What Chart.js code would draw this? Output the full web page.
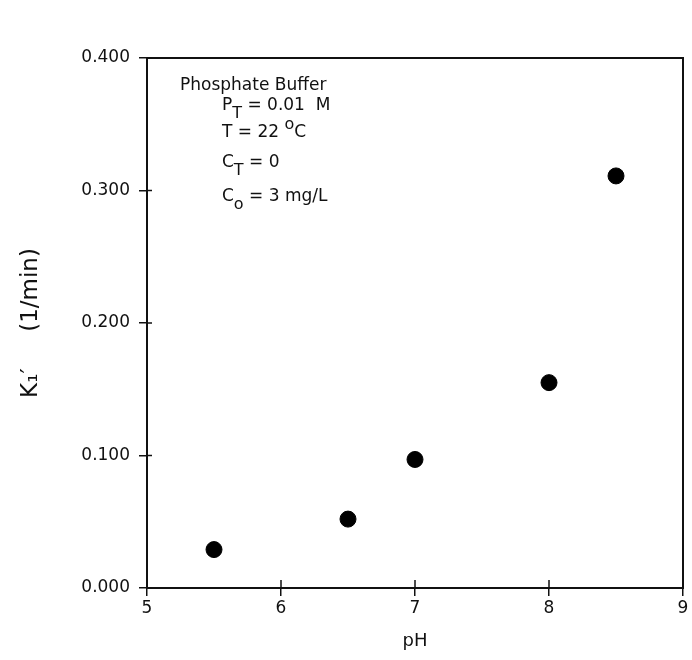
<!DOCTYPE html>
<html>
<head>
<meta charset="utf-8">
<script src="https://cdn.jsdelivr.net/npm/chart.js@4/dist/chart.umd.min.js"></script>
<style>
  body { margin: 0; background: #fff; }
</style>
</head>
<body>
<canvas id="chart" width="692" height="660"></canvas>
<script>
const phValues = [5.5, 6.5, 7.0, 8.0, 8.5];
const k1Values = [0.029, 0.052, 0.097, 0.155, 0.311];
const xTicks = [5, 6, 7, 8, 9];
const yTicks = [0.0, 0.1, 0.2, 0.3, 0.4];

const FONT = "'DejaVu Sans', sans-serif";

// annotation lines, split into normal / sub / sup pieces
const noteLines = [
    { x: 180, y: 86, parts: [['Phosphate Buffer', 'n']] },
    { x: 222, y: 106, parts: [['P', 'n'], ['T', 'sub'], [' = 0.01  M', 'n']] },
    { x: 222, y: 133, parts: [['T = 22 ', 'n'], ['o', 'sup'], ['C', 'n']] },
    { x: 222, y: 163, parts: [['C', 'n'], ['T', 'sub'], [' = 0', 'n']] },
    { x: 222, y: 197, parts: [['C', 'n'], ['o', 'sub'], [' = 3 mg/L', 'n']] }
];

const framePlugin = {
    id: 'frame',
    afterDraw(chart) {
        const ctx = chart.ctx;
        const a = chart.chartArea;
        ctx.save();
        ctx.strokeStyle = '#111';
        ctx.lineWidth = 2;
        ctx.strokeRect(a.left, a.top, a.right - a.left, a.bottom - a.top);
        // inner halves of the crossing tick marks
        ctx.lineWidth = 1.5;
        const xs = chart.scales.x, ys = chart.scales.y;
        xTicks.forEach(v => {
            const px = xs.getPixelForValue(v);
            ctx.beginPath();
            ctx.moveTo(px, a.bottom);
            ctx.lineTo(px, a.bottom - 8);
            ctx.stroke();
        });
        yTicks.forEach(v => {
            const py = ys.getPixelForValue(v);
            ctx.beginPath();
            ctx.moveTo(a.left, py);
            ctx.lineTo(a.left + 5, py);
            ctx.stroke();
        });
        // note text
        ctx.fillStyle = '#111';
        ctx.textBaseline = 'middle';
        noteLines.forEach(line => {
            let x = line.x;
            line.parts.forEach(([t, kind]) => {
                let size = 17, dy = 0;
                if (kind === 'sub') { size = 16; dy = 8; }
                if (kind === 'sup') { size = 16; dy = -8; }
                ctx.font = size + 'px ' + FONT;
                ctx.fillText(t, x, line.y + dy);
                x += ctx.measureText(t).width;
            });
        });
        ctx.restore();
    }
};

new Chart(document.getElementById('chart'), {
    type: 'scatter',
    data: {
        datasets: [{
            data: phValues.map((p, i) => ({ x: p, y: k1Values[i] })),
            backgroundColor: '#000',
            borderColor: '#000',
            pointRadius: 8,
            pointHoverRadius: 8
        }]
    },
    options: {
        responsive: false,
        animation: false,
        layout: {
            padding: { top: 58, right: 9, left: 0, bottom: 0 }
        },
        plugins: {
            legend: { display: false },
            tooltip: { enabled: false }
        },
        scales: {
            x: {
                type: 'linear',
                min: 5,
                max: 9,
                afterBuildTicks: scale => { scale.ticks = xTicks.map(v => ({ value: v })); },
                afterFit: scale => { scale.height = 72; },
                grid: { drawOnChartArea: false, tickLength: 8, color: '#111', lineWidth: 1.5 },
                border: { color: '#111', width: 2 },
                ticks: {
                    color: '#111',
                    padding: 2,
                    font: { family: FONT, size: 17 }
                },
                title: {
                    display: true,
                    text: 'pH',
                    color: '#111',
                    font: { family: FONT, size: 18 },
                    padding: { top: 0, bottom: 8 }
                }
            },
            y: {
                min: 0,
                max: 0.4,
                afterBuildTicks: scale => { scale.ticks = yTicks.map(v => ({ value: v })); },
                afterFit: scale => { scale.width = 147; },
                grid: { drawOnChartArea: false, tickLength: 8, color: '#111', lineWidth: 1.5 },
                border: { color: '#111', width: 2 },
                ticks: {
                    color: '#111',
                    padding: 9,
                    font: { family: FONT, size: 17 },
                    callback: v => v.toFixed(3)
                },
                title: {
                    display: true,
                    text: 'K\u2081\u2032     (1/min)',
                    color: '#111',
                    font: { family: FONT, size: 23 },
                    padding: { top: 17, bottom: 0 }
                }
            }
        }
    },
    plugins: [framePlugin]
});
</script>
</body>
</html>
